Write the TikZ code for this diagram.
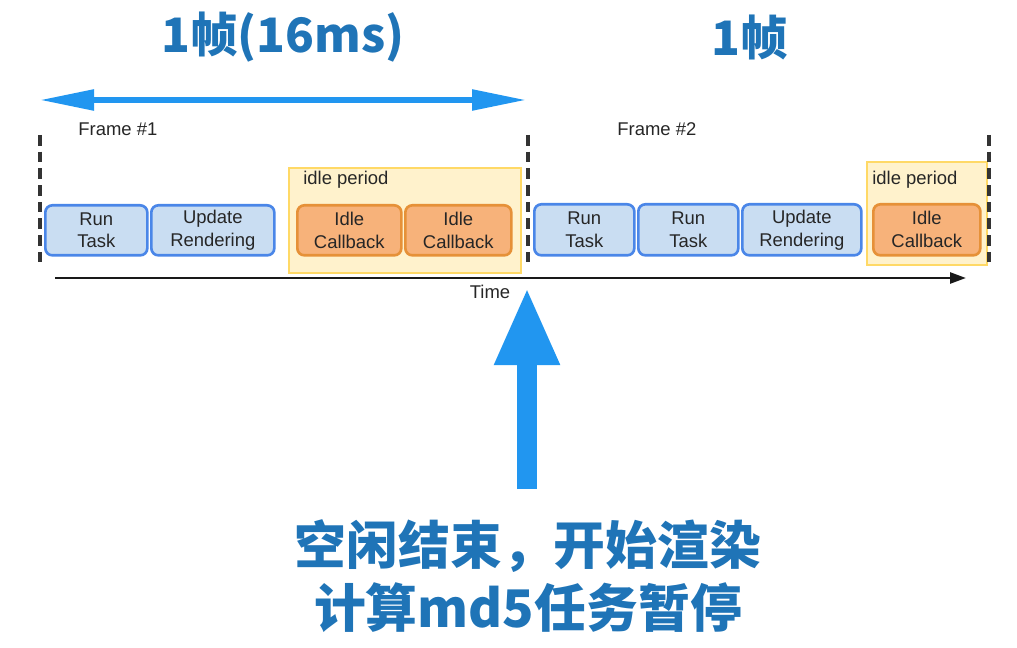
\documentclass[tikz,border=0pt]{standalone}
\usepackage{fontspec}
\setmainfont{Liberation Sans}
\newfontfamily\cjk{Noto Sans CJK SC}
\usetikzlibrary{arrows.meta}
\definecolor{titleblue}{HTML}{1F74B7}
\definecolor{arrowblue}{HTML}{2196F0}
\definecolor{taskfill}{HTML}{C9DDF2}
\definecolor{taskdraw}{HTML}{4A86E8}
\definecolor{idlefill}{HTML}{F7B27A}
\definecolor{idledraw}{HTML}{E69138}
\definecolor{periodfill}{HTML}{FFF2CC}
\definecolor{perioddraw}{HTML}{FFD966}
\def\px{0.02cm}
\tikzset{
  boxbase/.style={rounded corners=4pt, line width=1.5pt, align=center, font=\fontsize{10.5}{13}\selectfont, inner sep=0pt, anchor=north west, text=black!85},
  taskbox/.style={boxbase, fill=taskfill, draw=taskdraw},
  idlebox/.style={boxbase, fill=idlefill, draw=idledraw},
  periodbox/.style={fill=periodfill, draw=perioddraw, line width=1pt, anchor=north west, inner sep=0pt},
  lbl/.style={font=\fontsize{10.5}{12}\selectfont, text=black!85, inner sep=0pt},
  frameline/.style={draw=black!80, line width=2pt, dash pattern=on 6pt off 3.5pt},
  bigtitle/.style={font=\cjk\bfseries\fontsize{27}{30}\selectfont, text=titleblue, inner sep=0pt},
  bottomtext/.style={font=\cjk\bfseries\fontsize{29.5}{34}\selectfont, text=titleblue, inner sep=0pt}
}
\begin{document}
\begin{tikzpicture}[x=0.02cm, y=-0.02cm]
\useasboundingbox (0,0) rectangle (1017,648);
% titles
\node[bigtitle] (t1) at (283,37) {1帧(16ms)};
\node[bigtitle] (t2) at (750,37) {1帧};
% double arrow
\coordinate (dal) at (40,100);
\coordinate (dar) at (526,100);
\draw[arrowblue, line width=5.5*\px, {Triangle[length=54*\px,width=20*\px]}-{Triangle[length=54*\px,width=20*\px]}] (dal) -- (dar);
% frame labels
\node[lbl, anchor=west] (f1) at (78,129) {Frame \#1};
\node[lbl, anchor=west] (f2) at (617,129) {Frame \#2};
% idle period backgrounds
\node[periodbox, minimum width=232*\px, minimum height=105*\px] (p1) at (288,167) {};
\node[lbl, anchor=west] (p1l) at (303,180) {idle period};
\node[periodbox, minimum width=120*\px, minimum height=103*\px] (p2) at (866,161) {};
\node[lbl, anchor=west] (p2l) at (872,180) {idle period};
% dashed frame boundaries
\coordinate (d1t) at (40,135); \coordinate (d1b) at (40,266);
\coordinate (d2t) at (528,135); \coordinate (d2b) at (528,268);
\coordinate (d3t) at (989,135); \coordinate (d3b) at (989,266);
\draw[frameline] (d1t) -- (d1b);
\draw[frameline] (d2t) -- (d2b);
\draw[frameline] (d3t) -- (d3b);
% tasks frame 1
\node[taskbox, minimum width=102*\px, minimum height=50*\px] (a1) at (44,204) {Run\\Task};
\node[taskbox, minimum width=123*\px, minimum height=50*\px] (a2) at (150,204) {Update\\Rendering};
\node[idlebox, minimum width=104*\px, minimum height=50*\px] (a3) at (296,204) {Idle\\Callback};
\node[idlebox, minimum width=106*\px, minimum height=50*\px] (a4) at (404,204) {Idle\\Callback};
% tasks frame 2
\node[taskbox, minimum width=100*\px, minimum height=51*\px] (b1) at (533,203) {Run\\Task};
\node[taskbox, minimum width=100*\px, minimum height=51*\px] (b2) at (637,203) {Run\\Task};
\node[taskbox, minimum width=119*\px, minimum height=51*\px] (b3) at (741,203) {Update\\Rendering};
\node[idlebox, minimum width=107*\px, minimum height=51*\px] (b4) at (872,203) {Idle\\Callback};
% time axis
\coordinate (ts) at (55,278);
\coordinate (te) at (966,278);
\draw[black!90, line width=2.6*\px, -{Triangle[length=16*\px,width=11*\px]}] (ts) -- (te);
\node[lbl] (time) at (490,292) {Time};
% big up arrow
\coordinate (ub) at (527,489);
\coordinate (ut) at (527,287);
\draw[arrowblue, line width=20*\px, -{Triangle[length=78*\px,width=60*\px]}] (ub) -- (ut);
% bottom text
\node[bottomtext] (m1) at (528,546) {空闲结束，开始渲染};
\node[bottomtext] (m2) at (528,608) {计算md5任务暂停};
\end{tikzpicture}
\end{document}
